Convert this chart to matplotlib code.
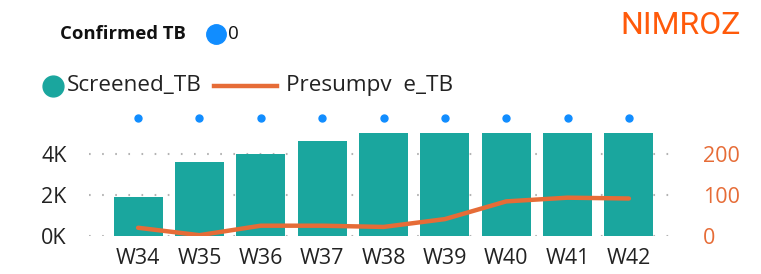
import matplotlib.pyplot as plt
from matplotlib.lines import Line2D

# data
weeks = ['W34', 'W35', 'W36', 'W37', 'W38', 'W39', 'W40', 'W41', 'W42']
screened_tb = [1900, 3600, 4000, 4600, 5000, 5000, 5000, 5000, 5000]
presumptive_tb = [20, 2, 25, 25, 22, 41, 84, 93, 91]
confirmed_tb = [0, 0, 0, 0, 0, 0, 0, 0, 0]

teal = '#1AA69E'
orange = '#E66C37'
blue = '#118DFF'
grey = '#B3B3B3'

plt.rcParams['font.family'] = ['Open Sans', 'DejaVu Sans']

fig = plt.figure(figsize=(7.61, 2.74), dpi=100)
W, H = 761, 274
ax = fig.add_axes([89 / W, 1 - 236 / H, (678 - 89) / W, (236 - 133) / H])

x = list(range(len(weeks)))
ax.bar(x, screened_tb, width=0.8, color=teal, zorder=2)
ax.set_xlim(-0.8, 8.8)
ax.set_ylim(0, 5000)
ax.set_yticks([0, 2000, 4000])
ax.set_yticklabels(['0K', '2K', '4K'])
ax.set_xticks(x)
ax.set_xticklabels(weeks)
for yv in [0, 2000, 4000]:
    ax.axhline(yv, color=grey, lw=1.5, ls=(0, (0.8, 5.5)), zorder=1)

ax2 = ax.twinx()
ax2.plot(x, presumptive_tb, color=orange, lw=3.2, solid_joinstyle='round',
         solid_capstyle='round', zorder=3)
ax2.set_ylim(0, 250)
ax2.set_yticks([0, 100, 200])

# confirmed TB dots sit above the plot area
ax3 = ax.twinx()
ax3.plot(x, confirmed_tb, 'o', color=blue, ms=5, clip_on=False)
ax3.set_ylim(-1, -0.127)
ax3.set_yticks([])

for a in (ax, ax2, ax3):
    for s in a.spines.values():
        s.set_visible(False)
ax.tick_params(axis='both', length=0, labelsize=15.5, colors='#222222')
ax.tick_params(axis='x', pad=9)
ax.tick_params(axis='y', pad=16)
ax2.tick_params(axis='y', length=0, labelsize=15.5, colors=orange, pad=18)

# title and legends
fig.text(741 / W, 1 - 26 / H, 'NIMROZ', color='#FF5A0A', fontsize=23,
         family=['Roboto', 'DejaVu Sans'], ha='right', va='center')
fig.text(60 / W, 1 - 34 / H, 'Confirmed TB', fontsize=13.3, weight='bold',
         ha='left', va='center', color='#111111')
fig.add_artist(Line2D([216 / W], [1 - 34 / H], marker='o', ms=14,
                      color=blue, transform=fig.transFigure))
fig.text(228 / W, 1 - 34 / H, '0', fontsize=13.5, ha='left', va='center',
         color='#111111')

fig.add_artist(Line2D([53 / W], [1 - 86 / H], marker='o', ms=15,
                      color=teal, transform=fig.transFigure))
fig.text(67 / W, 1 - 86 / H, 'Screened_TB', fontsize=16.2, ha='left',
         va='center', color='#222222')
fig.add_artist(Line2D([214 / W, 277 / W], [1 - 86 / H, 1 - 86 / H],
                      color=orange, lw=3.2, transform=fig.transFigure))
fig.text(286 / W, 1 - 86 / H, 'Presumpv  e_TB', fontsize=16.2, ha='left',
         va='center', color='#222222')

fig.savefig('out.png', dpi=100)
